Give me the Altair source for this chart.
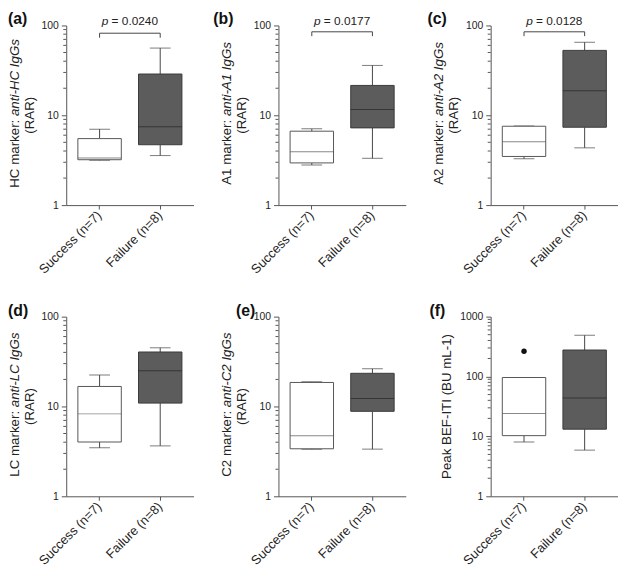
import altair as alt
import pandas as pd

GROUPS = ["Success (n=7)", "Failure (n=8)"]
PANEL_LABELS = ["(a)", "(b)", "(c)", "(d)", "(e)", "(f)"]
TITLE_PREFIX = ["HC marker:", "A1 marker:", "A2 marker:", "LC marker:", "C2 marker:", "Peak BEF-ITI (BU mL-1)"]
TITLE_ITALIC = ["anti-HC IgGs", "anti-A1 IgGs", "anti-A2 IgGs", "anti-LC IgGs", "anti-C2 IgGs", ""]
TITLE_LINE2 = ["(RAR)", "(RAR)", "(RAR)", "(RAR)", "(RAR)", ""]
Y_MAX = [100, 100, 100, 100, 100, 1000]
MAJOR_TICKS_100 = [1, 10, 100]
MAJOR_TICKS_1000 = [1, 10, 100, 1000]
MINOR_TICKS_100 = [2, 3, 4, 5, 6, 7, 8, 9, 20, 30, 40, 50, 60, 70, 80, 90]
MINOR_TICKS_1000 = MINOR_TICKS_100 + [200, 300, 400, 500, 600, 700, 800, 900]

# box statistics per panel (a..f)
SUCCESS_MIN = [3.15, 2.80, 3.28, 3.46, 3.33, 8.07]
SUCCESS_Q1 = [3.20, 2.95, 3.48, 4.02, 3.38, 10.3]
SUCCESS_MED = [3.35, 3.92, 5.08, 8.27, 4.72, 24.1]
SUCCESS_Q3 = [5.50, 6.65, 7.55, 16.7, 18.5, 96.3]
SUCCESS_MAX = [7.00, 7.06, 7.60, 22.4, 18.8, 96.3]

FAILURE_MIN = [3.56, 3.32, 4.34, 3.64, 3.35, 5.9]
FAILURE_Q1 = [4.70, 7.24, 7.36, 10.9, 8.83, 13.2]
FAILURE_MED = [7.46, 11.6, 18.8, 25.0, 12.3, 43.6]
FAILURE_Q3 = [28.8, 21.5, 52.8, 40.4, 23.4, 277]
FAILURE_MAX = [56.0, 35.9, 65.0, 45.0, 26.3, 489]

OUTLIER_PANEL = [5]
OUTLIER_GROUP = ["Success (n=7)"]
OUTLIER_VALUE = [264]

P_VALUES = ["0.0240", "0.0177", "0.0128", "", "", ""]
BRACKET_Y = [82, 85, 85]
BRACKET_LEG = [73, 76, 76]

W, H = 129, 182
FONT = "Liberation Sans"
TXT = "#222222"
AX = "#555555"
LABEL_DX = [-59, -66, -64, -59, -43, -62]
TF = 13.5
SP = 0.278  # space width in em


def panel(i):
    top = Y_MAX[i]
    major = MAJOR_TICKS_1000 if top == 1000 else MAJOR_TICKS_100
    minor = MINOR_TICKS_1000 if top == 1000 else MINOR_TICKS_100
    yscale = alt.Scale(type="log", domain=[1, top], nice=False)
    yaxis = alt.Axis(title=None, values=major, format="d", grid=False)
    xscale = alt.Scale(domain=GROUPS, paddingInner=0, paddingOuter=0.05)
    xaxis = alt.Axis(title=None, labelAngle=-45, grid=False)

    def Y(f):
        return alt.Y(f, type="quantitative", scale=yscale, axis=yaxis)

    X = alt.X("group:N", scale=xscale, axis=xaxis)

    df = pd.DataFrame({
        "group": GROUPS,
        "mn": [SUCCESS_MIN[i], FAILURE_MIN[i]],
        "q1": [SUCCESS_Q1[i], FAILURE_Q1[i]],
        "med": [SUCCESS_MED[i], FAILURE_MED[i]],
        "q3": [SUCCESS_Q3[i], FAILURE_Q3[i]],
        "mx": [SUCCESS_MAX[i], FAILURE_MAX[i]],
    })
    base = alt.Chart(df)
    fill = alt.Color("group:N", scale=alt.Scale(domain=GROUPS, range=["#ffffff", "#5c5c5c"]), legend=None)
    stroke = alt.Stroke("group:N", scale=alt.Scale(domain=GROUPS, range=["#555555", "#3a3a3a"]), legend=None)

    layers = []
    layers.append(base.mark_rule(color="#444444", strokeWidth=1).encode(x=X, y=Y("mn"), y2="q1"))
    layers.append(base.mark_rule(color="#444444", strokeWidth=1).encode(x=X, y=Y("q3"), y2="mx"))
    layers.append(base.mark_tick(size=21, thickness=1, orient="horizontal", color="#444444").encode(x=X, y=Y("mn")))
    layers.append(base.mark_tick(size=21, thickness=1, orient="horizontal", color="#444444").encode(x=X, y=Y("mx")))
    layers.append(base.mark_bar(size=44, strokeWidth=1).encode(x=X, y=Y("q1"), y2="q3", fill=fill, stroke=stroke))
    layers.append(base.mark_tick(size=44, thickness=1, orient="horizontal").encode(
        x=X, y=Y("med"),
        color=alt.Color("group:N", scale=alt.Scale(domain=GROUPS, range=["#555555", "#262626"]), legend=None)))

    # minor ticks on log axis
    mdf = pd.DataFrame({"v": minor})
    layers.append(alt.Chart(mdf).mark_rule(color=AX, strokeWidth=1).encode(
        x=alt.value(-3), x2=alt.value(0), y=Y("v")))

    # outliers
    odf = pd.DataFrame({"group": [g for p, g in zip(OUTLIER_PANEL, OUTLIER_GROUP) if p == i],
                        "v": [v for p, v in zip(OUTLIER_PANEL, OUTLIER_VALUE) if p == i]})
    if len(odf):
        layers.append(alt.Chart(odf).mark_point(filled=True, color="#111111", size=30, opacity=1).encode(
            x=X, y=Y("v")))

    # significance bracket
    if P_VALUES[i]:
        bdf = pd.DataFrame({
            "group": [GROUPS[0], GROUPS[0], GROUPS[1], GROUPS[1]],
            "v": [BRACKET_LEG[i], BRACKET_Y[i], BRACKET_Y[i], BRACKET_LEG[i]],
            "o": [0, 1, 2, 3],
        })
        layers.append(alt.Chart(bdf).mark_line(color="#444444", strokeWidth=1).encode(
            x=X, y=Y("v"), order="o:Q"))
        tdf = pd.DataFrame({"p": ["p"], "rest": ["= " + P_VALUES[i]]})
        full_w = (0.556 + SP + 0.584 + SP + 0.556 * 5 + 0.278) * 12
        x0 = W / 2 - full_w / 2
        layers.append(alt.Chart(tdf).mark_text(font=FONT, fontSize=12, fontStyle="italic", color=TXT,
                                               align="left", baseline="alphabetic").encode(
            x=alt.value(x0), y=alt.value(0), text="p:N"))
        layers.append(alt.Chart(tdf).mark_text(font=FONT, fontSize=12, color=TXT,
                                               align="left", baseline="alphabetic").encode(
            x=alt.value(x0 + (0.556 + SP) * 12), y=alt.value(0), text="rest:N"))

    # panel label
    ldf = pd.DataFrame({"t": [PANEL_LABELS[i]]})
    layers.append(alt.Chart(ldf).mark_text(font=FONT, fontSize=16, fontWeight="bold", color="#111111",
                                           align="left", baseline="top").encode(
        x=alt.value(LABEL_DX[i]), y=alt.value(-14), text="t:N"))

    # y title
    ttl = pd.DataFrame({"a": [TITLE_PREFIX[i]], "b": [TITLE_ITALIC[i]], "c": [TITLE_LINE2[i]]})
    if TITLE_ITALIC[i]:
        junction = H / 2 + 0.195 * TF
        layers.append(alt.Chart(ttl).mark_text(font=FONT, fontSize=TF, color=TXT, angle=270,
                                               align="right", baseline="middle").encode(
            x=alt.value(-52), y=alt.value(junction + SP * TF / 2), text="a:N"))
        layers.append(alt.Chart(ttl).mark_text(font=FONT, fontSize=TF, fontStyle="italic", color=TXT, angle=270,
                                               align="left", baseline="middle").encode(
            x=alt.value(-52), y=alt.value(junction - SP * TF / 2), text="b:N"))
        layers.append(alt.Chart(ttl).mark_text(font=FONT, fontSize=TF, color=TXT, angle=270,
                                               align="center", baseline="middle").encode(
            x=alt.value(-37), y=alt.value(H / 2), text="c:N"))
    else:
        layers.append(alt.Chart(ttl).mark_text(font=FONT, fontSize=TF, color=TXT, angle=270,
                                               align="center", baseline="middle").encode(
            x=alt.value(-44), y=alt.value(H / 2), text="a:N"))

    return alt.layer(*layers).properties(width=W, height=H)


chart = alt.concat(*[panel(i) for i in range(6)], columns=3,
                   spacing=alt.RowColnumber(row=113, column=86), bounds="flush").properties(
    padding=0
).configure_view(
    stroke=None
).configure_axis(
    labelFont=FONT, labelColor=TXT, domainColor=AX, tickColor=AX, domainWidth=1, tickWidth=1
).configure_axisY(
    labelFontSize=10.5, tickSize=5, labelPadding=3
).configure_axisX(
    labelFontSize=13, tickSize=4, labelPadding=4, labelAlign="right", labelBaseline="middle"
)

chart.save("out.html", embed_options={"renderer": "svg", "actions": False})
